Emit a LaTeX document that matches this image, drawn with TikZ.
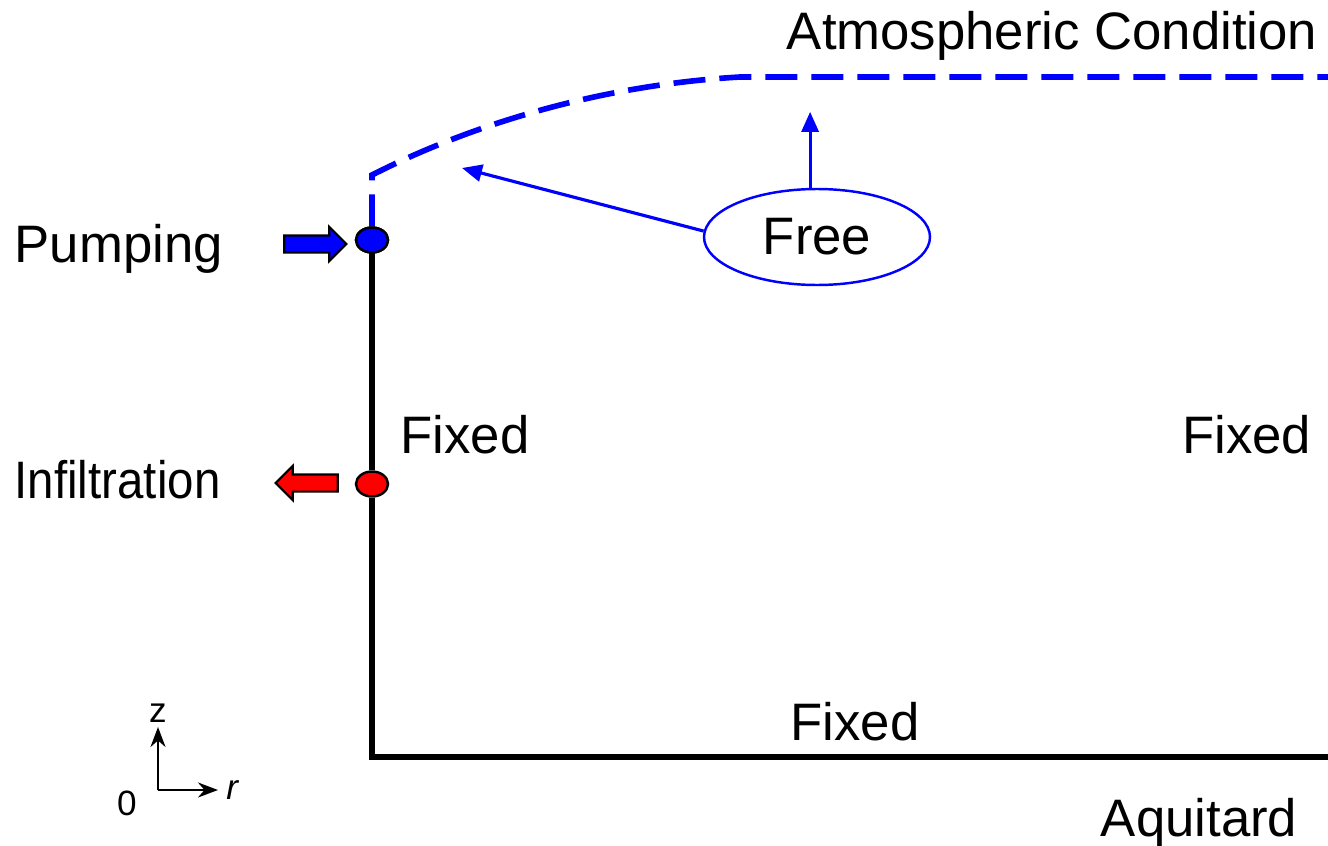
\documentclass[tikz,border=0pt]{standalone}
\usepackage{fontspec}
\setmainfont{Liberation Sans}
\usepackage{tikz}
\usetikzlibrary{arrows.meta, shapes.geometric, shapes.arrows}
\definecolor{flowBlue}{RGB}{0, 0, 255}
\definecolor{flowRed}{RGB}{255, 0, 0}

\begin{document}
\begin{tikzpicture}[font=\fontsize{15}{18}\selectfont,
    label text/.style={inner sep=0pt},
    wall/.style={line width=1.5pt},
    freebnd/.style={flowBlue, line width=1.6pt, dash pattern=on 0.32cm off 0.14cm},
    pointer/.style={flowBlue, line width=0.9pt, -{Triangle[length=0.2cm, width=0.17cm]}},
    well/.style={ellipse, draw=black, line width=0.7pt, minimum width=0.32cm, minimum height=0.25cm, inner sep=0pt},
    blockarrow/.style={single arrow, draw=black, line width=0.6pt, inner xsep=0pt, inner ysep=0.075cm,
      minimum height=0.62cm, single arrow head extend=0.085cm},
    axis/.style={line width=0.7pt, -{Stealth[length=0.2cm, width=0.15cm]}}]
  \useasboundingbox (0,0) rectangle (13.28,8.45);

  % domain boundaries
  \coordinate (corner) at (3.72,0.88);
  \coordinate (farend) at (13.28,0.88);
  \coordinate (bend) at (3.72,6.70);
  \coordinate (kink) at (7.40,7.68);
  \coordinate (topend) at (13.28,7.68);

  \node[well, fill=flowBlue] (pump) at (3.72,6.05) {};
  \node[well, fill=flowRed] (infil) at (3.72,3.61) {};

  \draw[wall] (pump.center) -- (infil) -- (corner) -- (farend);
  \draw[freebnd] (pump.north) -- (bend) .. controls (4.70,7.20) and (6.00,7.60) .. (kink) -- (topend);
  \node[well, fill=flowBlue] at (pump) {};

  % sources
  \node[blockarrow, fill=flowBlue] (pumparrow) at (3.11,6.01) {};
  \node[blockarrow, fill=flowRed, shape border rotate=180] (infilarrow) at (3.11,3.62) {};

  \node[label text, anchor=base west] (pumplabel) at (0.14,5.83) {Pumping};
  \node[label text, anchor=base west] (infillabel) at (0.14,3.47) {\scalebox{0.9}[1]{Infiltration}};

  % free surface
  \node[ellipse, draw=flowBlue, line width=0.7pt, minimum width=2.26cm, minimum height=0.96cm] (free) at (8.17,6.08) {Free};
  \draw[pointer] (free.177) -- (4.62,6.77);
  \draw[pointer] (free.98) -- ++(0,0.76);

  \node[label text, anchor=base east] (atmo) at (13.18,7.95) {Atmospheric Condition};
  \node[label text, anchor=base west] (fixleft) at (4.00,3.92) {Fixed};
  \node[label text, anchor=base east] (fixright) at (13.12,3.92) {Fixed};
  \node[label text, anchor=base] (fixbottom) at (8.55,1.05) {Fixed};
  \node[label text, anchor=base east] (aquitard) at (12.98,0.09) {Aquitard};

  % axes
  \coordinate (origin) at (1.58,0.55);
  \draw[axis] (origin) -- (1.58,1.18) node[above, inner sep=1pt, font=\fontsize{10}{12}\selectfont] (zlabel) {z};
  \draw[axis] (origin) -- (2.18,0.55) node[right, inner sep=2pt, font=\fontsize{10}{12}\selectfont] (rlabel) {\textit{r}};
  \node[font=\fontsize{10}{12}\selectfont] (zero) at (1.27,0.42) {0};
\end{tikzpicture}
\end{document}
